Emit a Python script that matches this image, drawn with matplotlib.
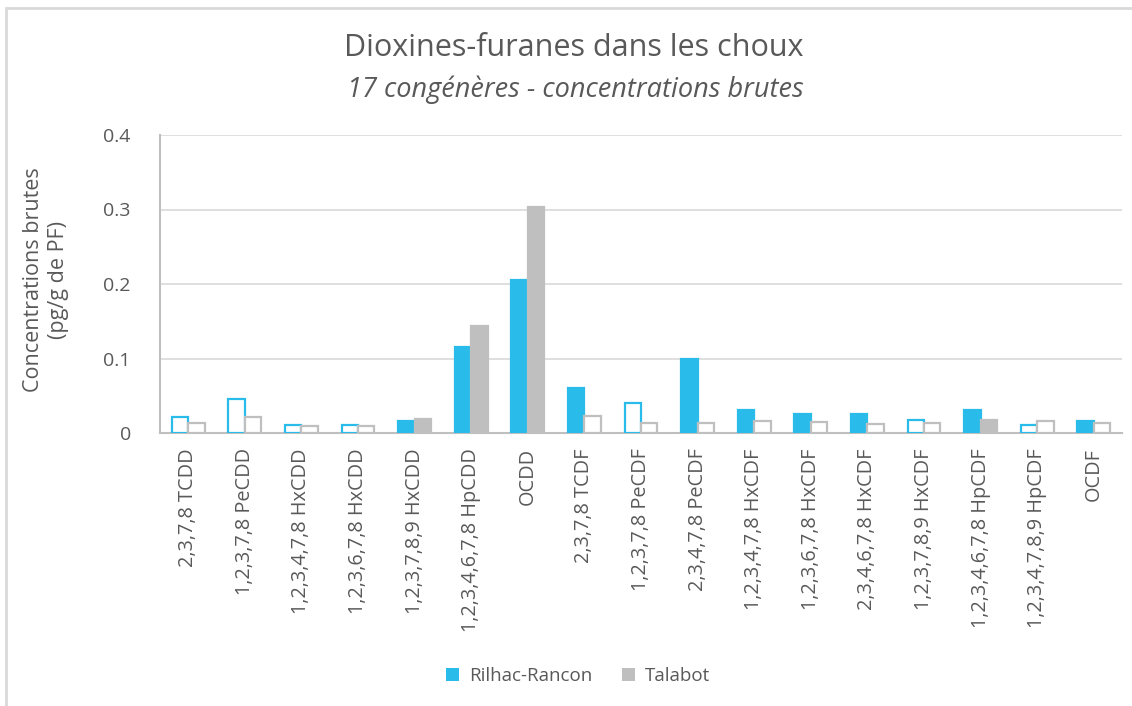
import numpy as np
import matplotlib
matplotlib.use("Agg")
import matplotlib.pyplot as plt
from matplotlib.patches import Rectangle

plt.rcParams["font.family"] = ["Open Sans", "DejaVu Sans"]

categories = [
    "2,3,7,8 TCDD", "1,2,3,7,8 PeCDD", "1,2,3,4,7,8 HxCDD", "1,2,3,6,7,8 HxCDD",
    "1,2,3,7,8,9 HxCDD", "1,2,3,4,6,7,8 HpCDD", "OCDD", "2,3,7,8 TCDF",
    "1,2,3,7,8 PeCDF", "2,3,4,7,8 PeCDF", "1,2,3,4,7,8 HxCDF", "1,2,3,6,7,8 HxCDF",
    "2,3,4,6,7,8 HxCDF", "1,2,3,7,8,9 HxCDF", "1,2,3,4,6,7,8 HpCDF",
    "1,2,3,4,7,8,9 HpCDF", "OCDF",
]

rilhac = [0.021, 0.046, 0.011, 0.011, 0.016, 0.115, 0.205, 0.060, 0.040,
          0.099, 0.031, 0.025, 0.025, 0.017, 0.031, 0.011, 0.016]
talabot = [0.0135, 0.021, 0.009, 0.009, 0.019, 0.144, 0.303, 0.023, 0.0135,
           0.0135, 0.0165, 0.015, 0.012, 0.0135, 0.017, 0.0165, 0.0135]

# True = quantified (filled bar), False = below limit (outline only)
rilhac_filled = [False, False, False, False, True, True, True, True, False,
                 True, True, True, True, False, True, False, True]
talabot_filled = [False, False, False, False, True, True, True, False, False,
                  False, False, False, False, False, True, False, False]

series_names = ["Rilhac-Rancon", "Talabot"]

BLUE = "#29BCEA"
GREY = "#BFBFBF"
TEXT = "#595959"

fig = plt.figure(figsize=(11.32, 7.06), dpi=100)
ax = fig.add_axes([160 / 1132, 1 - 433 / 706, (1122 - 160) / 1132, (433 - 135) / 706])

x = np.arange(len(categories))
w = 0.29

for vals, filled, color, off, name in [
    (rilhac, rilhac_filled, BLUE, -w / 2, series_names[0]),
    (talabot, talabot_filled, GREY, w / 2, series_names[1]),
]:
    faces = [color if f else "white" for f in filled]
    ax.bar(x + off, vals, width=w, color=faces, edgecolor=color,
           linewidth=1.6, zorder=3)
    ax.bar([0], [0], width=0, color=color, label=name)

ax.set_xlim(-0.5, len(categories) - 0.5)
ax.set_ylim(0, 0.4)
ax.set_yticks([0, 0.1, 0.2, 0.3, 0.4])
ax.set_yticklabels(["0", "0.1", "0.2", "0.3", "0.4"])
ax.yaxis.grid(True, color="#D9D9D9", linewidth=1.2, zorder=0)
ax.set_axisbelow(True)

ax.set_xticks(x)
ax.set_xticklabels(categories, rotation=90, va="top", ha="center")

for s in ["top", "right"]:
    ax.spines[s].set_visible(False)
for s in ["left", "bottom"]:
    ax.spines[s].set_color("#BFBFBF")
    ax.spines[s].set_linewidth(1.5)

ax.tick_params(axis="both", length=0, colors=TEXT)
ax.tick_params(axis="x", pad=11, labelsize=14.3)
ax.tick_params(axis="y", pad=21, labelsize=14)

fig.text(46 / 1132, 1 - 280 / 706, "Concentrations brutes\n(pg/g de PF)",
         rotation=90, ha="center", va="center", color=TEXT, fontsize=15.5,
         linespacing=1.3)

fig.text(574 / 1132, 1 - 48 / 706, "Dioxines-furanes dans les choux",
         ha="center", va="center", color=TEXT, fontsize=22)
fig.text(575 / 1132, 1 - 90 / 706, "17 congénères - concentrations brutes",
         ha="center", va="center", color=TEXT, fontsize=19.5, style="italic")

leg = fig.legend(loc="center", bbox_to_anchor=(578 / 1132, 1 - 676 / 706),
                 ncol=2, frameon=False, fontsize=13.5, handlelength=0.7,
                 handleheight=0.7, columnspacing=1.6, handletextpad=0.5)
for t in leg.get_texts():
    t.set_color(TEXT)

fig.patches.append(Rectangle((6 / 1132, -0.1), 1.2, 1 - 8 / 706 + 0.1,
                             transform=fig.transFigure, fill=False,
                             edgecolor="#D9D9D9", linewidth=2))

fig.savefig("out.png", dpi=100)
